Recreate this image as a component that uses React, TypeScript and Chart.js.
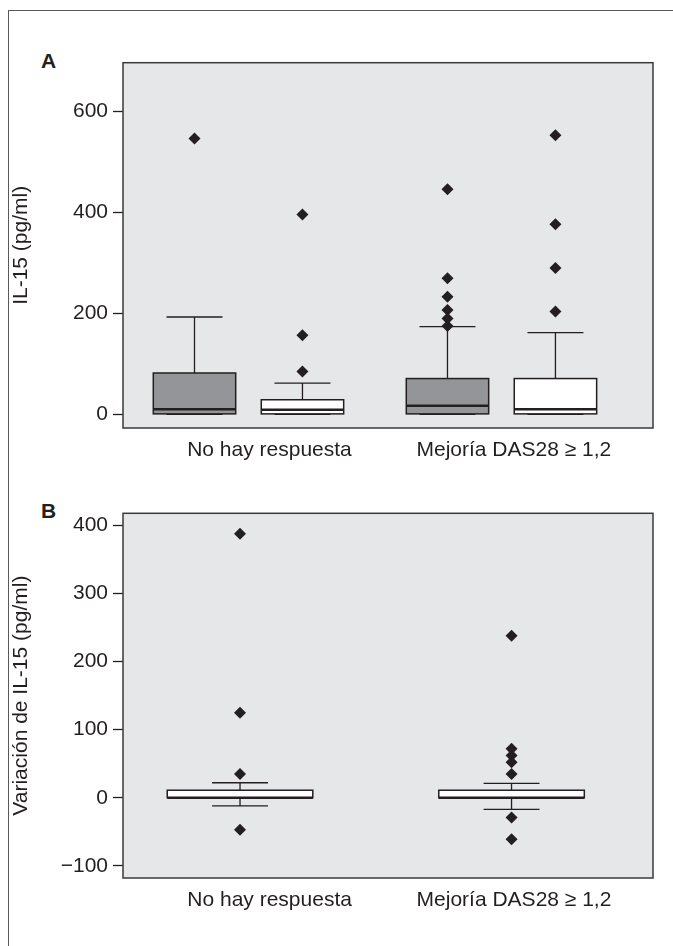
import React, { useEffect, useRef } from "react";
import { Chart, registerables } from "chart.js";

Chart.register(...registerables);

// ---------- data ----------
const CATEGORIES = ["No hay respuesta", "Mejoría DAS28 \u2265 1,2"];
const Y_TICKS_A = [0, 200, 400, 600];
const Y_TICKS_B = [-100, 0, 100, 200, 300, 400];
const Y_TITLE_A = "IL-15 (pg/ml)";
const Y_TITLE_B = "Variación de IL-15 (pg/ml)";

// [lower whisker, Q1, median, Q3, upper whisker] per category
const A_GRAY_STATS = [
  [0, 1, 10, 82, 193],
  [0, 1, 17, 71, 174],
];
const A_GRAY_OUTLIERS = [[547], [446, 270, 233, 207, 190, 175]];
const A_WHITE_STATS = [
  [0, 1, 9, 29, 62],
  [0, 1, 10, 71, 162],
];
const A_WHITE_OUTLIERS = [[396, 157, 85], [553, 377, 290, 204]];

const B_STATS = [
  [-12, 0, 0, 11, 22],
  [-17, 0, 0, 11, 21],
];
const B_OUTLIERS = [[388, 125, 35, -47], [238, 72, 62, 52, 35, -29, -61]];

// ---------- styles ----------
const FONT = '"Liberation Sans", Arial, Helvetica, sans-serif';
const FONT_SIZE = 21;
const INK = "#231f20";
const GRAY = "#939598";
const WHITE = "#ffffff";
const PLOT_BG = "#e6e7e8";

type BoxDef = { x: number; stats: number[]; fill: string };

function makeBoxPlugin(boxes: BoxDef[], boxWidth: number, capWidth: number) {
  return {
    id: "boxes",
    beforeDatasetsDraw(chart: any) {
      const { ctx, chartArea: a, scales } = chart;
      const xs = scales.x;
      const ys = scales.y;
      ctx.save();
      ctx.fillStyle = PLOT_BG;
      ctx.fillRect(a.left, a.top, a.right - a.left, a.bottom - a.top);
      for (const b of boxes) {
        const [lo, q1, med, q3, hi] = b.stats;
        const xl = xs.getPixelForValue(b.x - boxWidth / 2);
        const xr = xs.getPixelForValue(b.x + boxWidth / 2);
        const xc = xs.getPixelForValue(b.x);
        const cl = xs.getPixelForValue(b.x - capWidth / 2);
        const cr = xs.getPixelForValue(b.x + capWidth / 2);
        const yLo = ys.getPixelForValue(lo);
        const yQ1 = ys.getPixelForValue(q1);
        const yMed = ys.getPixelForValue(med);
        const yQ3 = ys.getPixelForValue(q3);
        const yHi = ys.getPixelForValue(hi);
        ctx.strokeStyle = INK;
        ctx.lineWidth = 1.3;
        ctx.beginPath();
        if (hi > q3) {
          ctx.moveTo(xc, yQ3);
          ctx.lineTo(xc, yHi);
          ctx.moveTo(cl, yHi);
          ctx.lineTo(cr, yHi);
        }
        if (lo < q1) {
          ctx.moveTo(xc, yQ1);
          ctx.lineTo(xc, yLo);
          ctx.moveTo(cl, yLo);
          ctx.lineTo(cr, yLo);
        }
        ctx.stroke();
        ctx.fillStyle = b.fill;
        ctx.fillRect(xl, yQ3, xr - xl, yQ1 - yQ3);
        ctx.lineWidth = 1.5;
        ctx.strokeRect(xl, yQ3, xr - xl, yQ1 - yQ3);
        ctx.lineWidth = 2.5;
        ctx.beginPath();
        ctx.moveTo(xl, yMed);
        ctx.lineTo(xr, yMed);
        ctx.stroke();
      }
      ctx.restore();
    },
    afterDatasetsDraw(chart: any) {
      const { ctx, chartArea: a } = chart;
      ctx.save();
      ctx.strokeStyle = "#3a3a3a";
      ctx.lineWidth = 1.5;
      ctx.strokeRect(a.left, a.top, a.right - a.left, a.bottom - a.top);
      ctx.restore();
    },
  };
}

function fmt(v: number) {
  return v < 0 ? "\u2212" + Math.abs(v) : String(v);
}

type PanelCfg = {
  top: number;
  padTop: number;
  plotH: number;
  xMin: number;
  xMax: number;
  yMin: number;
  yMax: number;
  yTicks: number[];
  yTitle: string;
  labelPos: number[];
  boxes: BoxDef[];
  boxWidth: number;
  capWidth: number;
  points: { x: number; y: number }[];
};

const X_AXIS_H = 50;

function Panel({ cfg }: { cfg: PanelCfg }) {
  const ref = useRef<HTMLCanvasElement>(null);
  const height = Math.round(cfg.padTop + cfg.plotH + X_AXIS_H);
  useEffect(() => {
    const font = { family: FONT, size: FONT_SIZE };
    const chart = new Chart(ref.current as HTMLCanvasElement, {
      type: "scatter",
      data: {
        datasets: [
          {
            data: cfg.points,
            pointStyle: "rectRot",
            pointRadius: 6,
            pointHoverRadius: 6,
            backgroundColor: INK,
            borderColor: INK,
            borderWidth: 0,
          },
        ],
      },
      options: {
        animation: false,
        responsive: false,
        maintainAspectRatio: false,
        events: [],
        layout: { padding: { top: cfg.padTop, right: 20, left: 0, bottom: 0 } },
        plugins: { legend: { display: false }, tooltip: { enabled: false } },
        scales: {
          x: {
            type: "linear",
            min: cfg.xMin,
            max: cfg.xMax,
            grid: { display: false, drawTicks: false },
            border: { display: false },
            afterBuildTicks: (s: any) => {
              s.ticks = cfg.labelPos.map((v) => ({ value: v }));
            },
            afterFit: (s: any) => {
              s.height = X_AXIS_H;
            },
            ticks: {
              font,
              color: INK,
              padding: 10,
              maxRotation: 0,
              autoSkip: false,
              callback: (_v: any, i: number) => CATEGORIES[i],
            },
          },
          y: {
            type: "linear",
            min: cfg.yMin,
            max: cfg.yMax,
            afterBuildTicks: (s: any) => {
              s.ticks = cfg.yTicks.map((v) => ({ value: v }));
            },
            afterFit: (s: any) => {
              s.width = 123;
            },
            grid: {
              display: true,
              drawOnChartArea: false,
              drawTicks: true,
              tickLength: 10,
              tickColor: INK,
              tickWidth: 1.3,
            },
            border: { display: false },
            ticks: { font, color: INK, padding: 5, callback: (v: any) => fmt(Number(v)) },
            title: {
              display: true,
              text: cfg.yTitle,
              font,
              color: INK,
              padding: { top: 8.4, bottom: 0 },
            },
          },
        },
      },
      plugins: [makeBoxPlugin(cfg.boxes, cfg.boxWidth, cfg.capWidth)],
    } as any);
    return () => chart.destroy();
  }, []);
  return (
    <canvas
      ref={ref}
      width={673}
      height={height}
      style={{ position: "absolute", left: 0, top: cfg.top, width: 673, height }}
    />
  );
}

const A_OFF = 0.2134;
const panelA: PanelCfg = {
  top: 40,
  padTop: 22.7,
  plotH: 365.3,
  xMin: 0.504,
  xMax: 2.599,
  yMin: -27,
  yMax: 697,
  yTicks: Y_TICKS_A,
  yTitle: Y_TITLE_A,
  labelPos: [1.083, 2.049],
  boxWidth: 0.3257,
  capWidth: 0.2213,
  boxes: CATEGORIES.flatMap((_, i) => [
    { x: i + 1 - A_OFF, stats: A_GRAY_STATS[i], fill: GRAY },
    { x: i + 1 + A_OFF, stats: A_WHITE_STATS[i], fill: WHITE },
  ]),
  points: [
    ...A_GRAY_OUTLIERS.flatMap((vals, i) => vals.map((v) => ({ x: i + 1 - A_OFF, y: v }))),
    ...A_WHITE_OUTLIERS.flatMap((vals, i) => vals.map((v) => ({ x: i + 1 + A_OFF, y: v }))),
  ],
};

const panelB: PanelCfg = {
  top: 490,
  padTop: 23.3,
  plotH: 365,
  xMin: 0.569,
  xMax: 2.521,
  yMin: -118,
  yMax: 418,
  yTicks: Y_TICKS_B,
  yTitle: Y_TITLE_B,
  labelPos: [1.109, 2.009],
  boxWidth: 0.536,
  capWidth: 0.206,
  boxes: CATEGORIES.map((_, i) => ({ x: i + 1, stats: B_STATS[i], fill: WHITE })),
  points: B_OUTLIERS.flatMap((vals, i) => vals.map((v) => ({ x: i + 1, y: v }))),
};

const letterStyle: React.CSSProperties = {
  position: "absolute",
  left: 41,
  fontFamily: FONT,
  fontWeight: "bold",
  fontSize: 21,
  lineHeight: "22px",
  color: INK,
};

export default function App() {
  return (
    <div
      style={{
        position: "fixed",
        left: 0,
        top: 0,
        width: 673,
        height: 946,
        overflow: "hidden",
        background: "#ffffff",
      }}
    >
      <div
        style={{
          position: "absolute",
          left: 8,
          top: 10,
          width: 720,
          height: 1000,
          borderTop: "1.5px solid #58595b",
          borderLeft: "1.5px solid #58595b",
        }}
      />
      <div style={{ ...letterStyle, top: 50 }}>A</div>
      <div style={{ ...letterStyle, top: 499.5 }}>B</div>
      <Panel cfg={panelA} />
      <Panel cfg={panelB} />
    </div>
  );
}
